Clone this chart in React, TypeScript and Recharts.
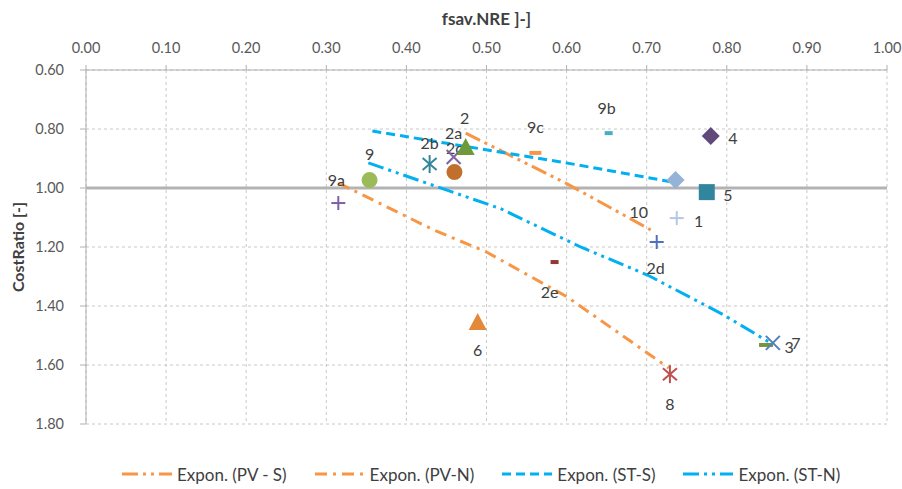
import React from "react";
import {
  ScatterChart,
  Scatter,
  XAxis,
  YAxis,
  CartesianGrid,
  ReferenceLine,
  Legend,
} from "recharts";

// ---- data ----
const pointNames = ["9a", "9", "2b", "2c", "2a", "2", "9c", "9b", "4", "", "5", "1", "10", "2d", "2e", "6", "8", "3", "7"];
const pointX = [0.315, 0.354, 0.429, 0.46, 0.459, 0.474, 0.561, 0.6525, 0.78, 0.736, 0.775, 0.7375, 0.69, 0.7125, 0.585, 0.489, 0.729, 0.849, 0.8575];
const pointY = [1.051, 0.973, 0.919, 0.946, 0.895, 0.861, 0.881, 0.814, 0.824, 0.973, 1.014, 1.102, 1.166, 1.183, 1.251, 1.454, 1.631, 1.532, 1.525];

const pvSX = [0.474, 0.6, 0.705];
const pvSY = [0.814, 0.985, 1.142];
const pvNX = [0.315, 0.434, 0.5, 0.6, 0.7275];
const pvNY = [0.983, 1.142, 1.217, 1.368, 1.61];
const stSX = [0.3575, 0.6, 0.739];
const stSY = [0.807, 0.915, 0.983];
const stNX = [0.3525, 0.5175, 0.6175, 0.701, 0.796, 0.8575];
const stNY = [0.915, 1.07, 1.2, 1.295, 1.43, 1.53];

const xTicks = [0, 0.1, 0.2, 0.3, 0.4, 0.5, 0.6, 0.7, 0.8, 0.9, 1.0];
const yTicks = [0.6, 0.8, 1.0, 1.2, 1.4, 1.6, 1.8];

const trendNames = ["Expon. (PV - S)", "Expon. (PV-N)", "Expon. (ST-S)", "Expon. (ST-N)"];

// ---- styles ----
type MarkerStyle = { shape: string; color: string; dx: number; dy: number; w?: number };
const markerStyles: MarkerStyle[] = [
  { shape: "plus", color: "#7f5fa8", dx: -2, dy: -24 },
  { shape: "circle", color: "#9bbb59", dx: 0, dy: -27 },
  { shape: "star", color: "#31859c", dx: 0, dy: -22 },
  { shape: "circle", color: "#c0702c", dx: 0, dy: -25 },
  { shape: "x", color: "#8064a2", dx: 0, dy: -25 },
  { shape: "triangle", color: "#6f9a3a", dx: -1, dy: -29 },
  { shape: "dash", color: "#f79646", dx: 0, dy: -26, w: 12 },
  { shape: "dash", color: "#4bacc6", dx: -2, dy: -26, w: 8 },
  { shape: "diamond", color: "#604a7b", dx: 22, dy: 1 },
  { shape: "diamond", color: "#95b3d7", dx: 0, dy: 0 },
  { shape: "square", color: "#31859c", dx: 21, dy: 2 },
  { shape: "plus", color: "#b4c7e7", dx: 22, dy: 2 },
  { shape: "none", color: "#000", dx: 0, dy: -25 },
  { shape: "plus", color: "#4f6fbf", dx: -1, dy: 26 },
  { shape: "dash", color: "#953735", dx: -5, dy: 29, w: 8 },
  { shape: "triangle", color: "#e3893a", dx: 0, dy: 28 },
  { shape: "star", color: "#c0504d", dx: 0, dy: 29 },
  { shape: "dash", color: "#77933c", dx: 23, dy: 2, w: 14 },
  { shape: "x", color: "#4f81bd", dx: 23, dy: 0 },
];

const trendStyles = [
  { color: "#f79646", dash: "16 5 3 5 3 5" },
  { color: "#f79646", dash: "12 6 3 6" },
  { color: "#00b0f0", dash: "9 5" },
  { color: "#00b0f0", dash: "16 5 3 5 3 5" },
];

const FONT = "Lato, 'Open Sans', sans-serif";
const GRID = "#c8c8c8";
const AXIS = "#b0b0b0";
const TICK = "#595959";

const points = pointNames.map((n, i) => ({ name: n, x: pointX[i], y: pointY[i], idx: i }));
const toSeries = (xs: number[], ys: number[]) => xs.map((x, i) => ({ x, y: ys[i] }));
const trends = [
  toSeries(pvSX, pvSY),
  toSeries(pvNX, pvNY),
  toSeries(stSX, stSY),
  toSeries(stNX, stNY),
];

function Marker(props: any) {
  const { cx, cy, payload } = props;
  if (cx == null || cy == null || !payload) return <g />;
  const st = markerStyles[payload.idx];
  const c = st.color;
  let m: React.ReactNode = null;
  switch (st.shape) {
    case "plus":
      m = (
        <g stroke={c} strokeWidth={2}>
          <line x1={cx - 7} y1={cy} x2={cx + 7} y2={cy} />
          <line x1={cx} y1={cy - 7} x2={cx} y2={cy + 7} />
        </g>
      );
      break;
    case "x":
      m = (
        <g stroke={c} strokeWidth={2}>
          <line x1={cx - 7} y1={cy - 7} x2={cx + 7} y2={cy + 7} />
          <line x1={cx - 7} y1={cy + 7} x2={cx + 7} y2={cy - 7} />
        </g>
      );
      break;
    case "star":
      m = (
        <g stroke={c} strokeWidth={2}>
          <line x1={cx - 7} y1={cy - 6} x2={cx + 7} y2={cy + 6} />
          <line x1={cx - 7} y1={cy + 6} x2={cx + 7} y2={cy - 6} />
          <line x1={cx} y1={cy - 9} x2={cx} y2={cy + 9} />
        </g>
      );
      break;
    case "circle":
      m = <circle cx={cx} cy={cy} r={8} fill={c} />;
      break;
    case "triangle":
      m = <polygon points={`${cx},${cy - 9} ${cx + 9},${cy + 8} ${cx - 9},${cy + 8}`} fill={c} />;
      break;
    case "diamond":
      m = <polygon points={`${cx},${cy - 9} ${cx + 9},${cy} ${cx},${cy + 9} ${cx - 9},${cy}`} fill={c} />;
      break;
    case "square":
      m = <rect x={cx - 8} y={cy - 8} width={16} height={16} fill={c} />;
      break;
    case "dash": {
      const w = st.w || 10;
      m = <rect x={cx - w / 2} y={cy - 2} width={w} height={4} fill={c} />;
      break;
    }
    default:
      m = null;
  }
  return (
    <g>
      {m}
      {payload.name ? (
        <text
          x={cx + st.dx}
          y={cy + st.dy}
          textAnchor="middle"
          dominantBaseline="central"
          fontSize={16}
          fontFamily={FONT}
          fill="#404040"
        >
          {payload.name}
        </text>
      ) : null}
    </g>
  );
}

function LegendContent() {
  return (
    <div
      style={{
        height: 61,
        boxSizing: "border-box",
        paddingTop: 39,
        paddingLeft: 114,
        display: "flex",
        alignItems: "center",
        fontFamily: FONT,
        fontSize: 17,
        color: "#404040",
      }}
    >
      {trendNames.map((n, i) => (
        <div key={n} style={{ display: "flex", alignItems: "center", marginRight: 28, height: 20 }}>
          <svg width={50} height={10} style={{ marginRight: 5 }}>
            <line
              x1={0}
              y1={5}
              x2={50}
              y2={5}
              stroke={trendStyles[i].color}
              strokeWidth={3}
              strokeDasharray={trendStyles[i].dash}
            />
          </svg>
          <span style={{ whiteSpace: "nowrap" }}>{n}</span>
        </div>
      ))}
    </div>
  );
}

export default function App() {
  return (
    <div style={{ width: 894, height: 481, fontFamily: FONT }}>
      <style>{"html{overflow:hidden} body{width:894px}"}</style>
      <ScatterChart
        width={894}
        height={481}
        margin={{ top: 2, right: 15, bottom: 4, left: 0 }}
        style={{ overflow: "visible" }}
      >
        <CartesianGrid stroke={GRID} strokeDasharray="3 3" />
        <XAxis
          type="number"
          dataKey="x"
          orientation="top"
          domain={[0, 1]}
          ticks={xTicks}
          tickFormatter={(v: number) => v.toFixed(2)}
          height={60}
          stroke={AXIS}
          tickLine={{ stroke: AXIS }}
          tickSize={5}
          tickMargin={12}
          tick={{ fill: TICK, fontSize: 14.5, fontFamily: FONT }}
          allowDataOverflow
          label={{
            value: "fsav.NRE ]-]",
            position: "insideTop",
            offset: 3,
            style: { fontWeight: 700, fontSize: 17, fill: "#404040", fontFamily: FONT },
          }}
        />
        <YAxis
          type="number"
          dataKey="y"
          reversed
          domain={[0.6, 1.8]}
          ticks={yTicks}
          tickFormatter={(v: number) => v.toFixed(2)}
          width={78}
          stroke={AXIS}
          tickLine={{ stroke: AXIS }}
          tickSize={6}
          tickMargin={16}
          tick={{ fill: TICK, fontSize: 14.5, fontFamily: FONT }}
          allowDataOverflow
          label={{
            value: "CostRatio [-]",
            angle: -90,
            position: "insideLeft",
            offset: 10,
            style: { textAnchor: "middle", fontWeight: 700, fontSize: 16, fill: "#404040", fontFamily: FONT },
          }}
        />
        <ReferenceLine y={1.0} stroke="#b3b3b3" strokeWidth={3} />
        {trends.map((d, i) => (
          <Scatter
            key={trendNames[i]}
            name={trendNames[i]}
            data={d}
            line={{ stroke: trendStyles[i].color, strokeWidth: 3, strokeDasharray: trendStyles[i].dash }}
            shape={() => <g />}
            isAnimationActive={false}
          />
        ))}
        <Scatter data={points} shape={(p: any) => <Marker {...p} />} isAnimationActive={false} legendType="none" />
        <Legend verticalAlign="bottom" content={() => <LegendContent />} />
      </ScatterChart>
    </div>
  );
}
